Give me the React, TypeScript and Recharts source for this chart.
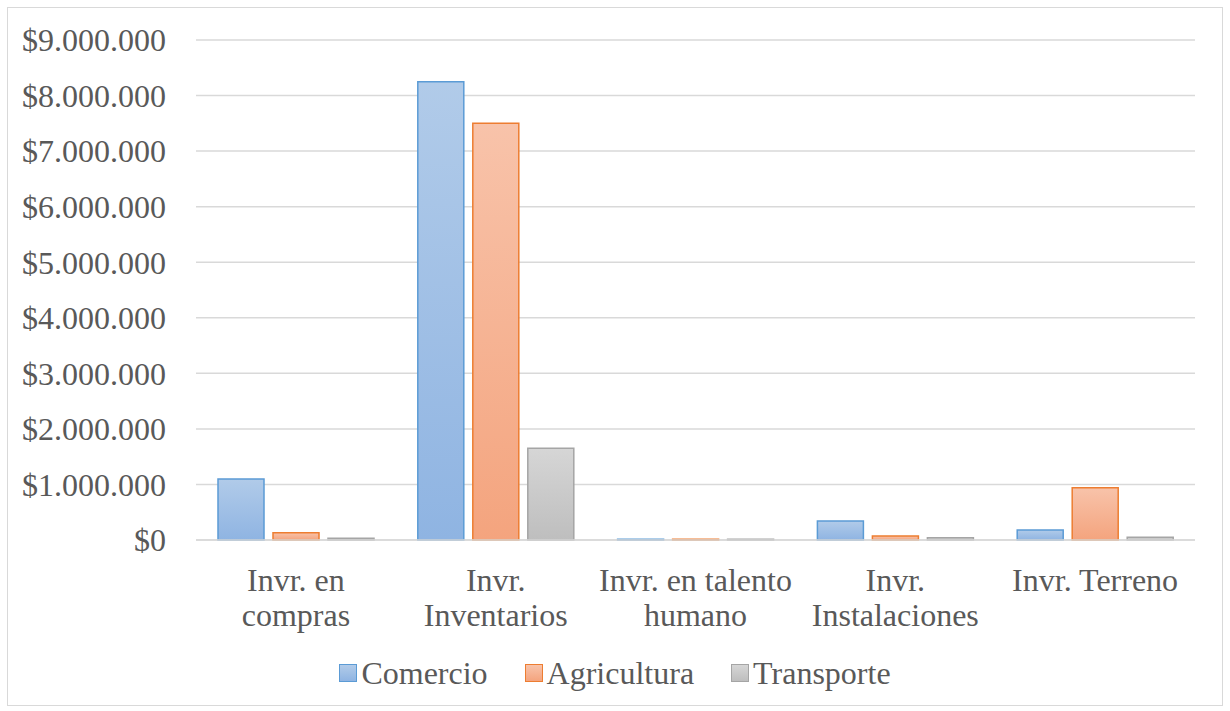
import { Bar, BarChart, CartesianGrid, Legend, XAxis, YAxis } from 'recharts'

const CATEGORIES = [
	'Invr. en\ncompras',
	'Invr.\nInventarios',
	'Invr. en talento\nhumano',
	'Invr.\nInstalaciones',
	'Invr. Terreno',
]
const COMERCIO = [1100000, 8250000, 15000, 340000, 180000]
const AGRICULTURA = [130000, 7500000, 15000, 70000, 940000]
const TRANSPORTE = [30000, 1650000, 15000, 40000, 50000]
const Y_TICKS = [0, 1000000, 2000000, 3000000, 4000000, 5000000, 6000000, 7000000, 8000000, 9000000]

const SERIES = [
	{ key: 'Comercio', stroke: '#5b9bd5', top: '#b1cbe9', bottom: '#8fb4e2' },
	{ key: 'Agricultura', stroke: '#ed7d31', top: '#f8c3aa', bottom: '#f4a47e' },
	{ key: 'Transporte', stroke: '#a5a5a5', top: '#d6d6d6', bottom: '#bebebe' },
]

const data = CATEGORIES.map((name, i) => ({
	name,
	Comercio: COMERCIO[i],
	Agricultura: AGRICULTURA[i],
	Transporte: TRANSPORTE[i],
}))

const FONT = '"Liberation Serif", "Times New Roman", serif'
const TEXT = '#595959'

const fmt = (v: number) => '$' + v.toLocaleString('de-DE')

function XTick({ x, y, payload }: { x?: number; y?: number; payload?: { value: string } }) {
	const lines = String(payload?.value ?? '').split('\n')
	return (
		<text x={x} y={(y ?? 0) + 43} textAnchor="middle" fill={TEXT} fontSize={32} fontFamily={FONT}>
			{lines.map((l, i) => (
				<tspan key={i} x={x} dy={i === 0 ? 0 : 35}>
					{l}
				</tspan>
			))}
		</text>
	)
}

function LegendContent() {
	return (
		<div
			style={{
				display: 'flex',
				justifyContent: 'center',
				alignItems: 'center',
				height: 40,
				paddingLeft: 35,
				fontFamily: FONT,
				fontSize: 32,
				color: TEXT,
			}}
		>
			{SERIES.map((s, i) => (
				<div key={s.key} style={{ display: 'flex', alignItems: 'center', marginRight: i < SERIES.length - 1 ? 37 : 0 }}>
					<span
						style={{
							boxSizing: 'border-box',
							width: 18,
							height: 18,
							border: `1.5px solid ${s.stroke}`,
							background: `linear-gradient(${s.top}, ${s.bottom})`,
							marginRight: 4,
						}}
					/>
					<span>{s.key}</span>
				</div>
			))}
		</div>
	)
}

export default function App() {
	return (
		<div style={{ position: 'absolute', left: 0, top: 0, width: 1230, height: 711, background: '#fff' }}>
			<div style={{ position: 'absolute', left: 7, top: 7, width: 1214, height: 697, border: '1px solid #d9d9d9' }} />
			<div style={{ position: 'absolute', left: 0, top: 0 }}>
				<BarChart
					width={1230}
					height={711}
					data={data}
					margin={{ top: 40, right: 35, bottom: 18, left: 0 }}
					barGap={9}
					barCategoryGap={22}
				>
					<defs>
						{SERIES.map((s) => (
							<linearGradient key={s.key} id={`g-${s.key}`} x1="0" y1="0" x2="0" y2="1">
								<stop offset="0%" stopColor={s.top} />
								<stop offset="100%" stopColor={s.bottom} />
							</linearGradient>
						))}
					</defs>
					<CartesianGrid vertical={false} stroke="#d9d9d9" strokeWidth={1.5} />
					<XAxis
						dataKey="name"
						interval={0}
						height={113}
						tickLine={false}
						axisLine={{ stroke: '#d9d9d9', strokeWidth: 1.5 }}
						tick={<XTick />}
					/>
					<YAxis
						width={196}
						domain={[0, 9000000]}
						ticks={Y_TICKS}
						tickFormatter={fmt}
						axisLine={false}
						tickLine={false}
						tickMargin={24}
						tick={{ fill: TEXT, fontSize: 32, fontFamily: FONT }}
					/>
					<Legend verticalAlign="bottom" height={40} content={<LegendContent />} />
					{SERIES.map((s) => (
						<Bar
							key={s.key}
							dataKey={s.key}
							fill={`url(#g-${s.key})`}
							stroke={s.stroke}
							strokeWidth={1.5}
							isAnimationActive={false}
						/>
					))}
				</BarChart>
			</div>
		</div>
	)
}
